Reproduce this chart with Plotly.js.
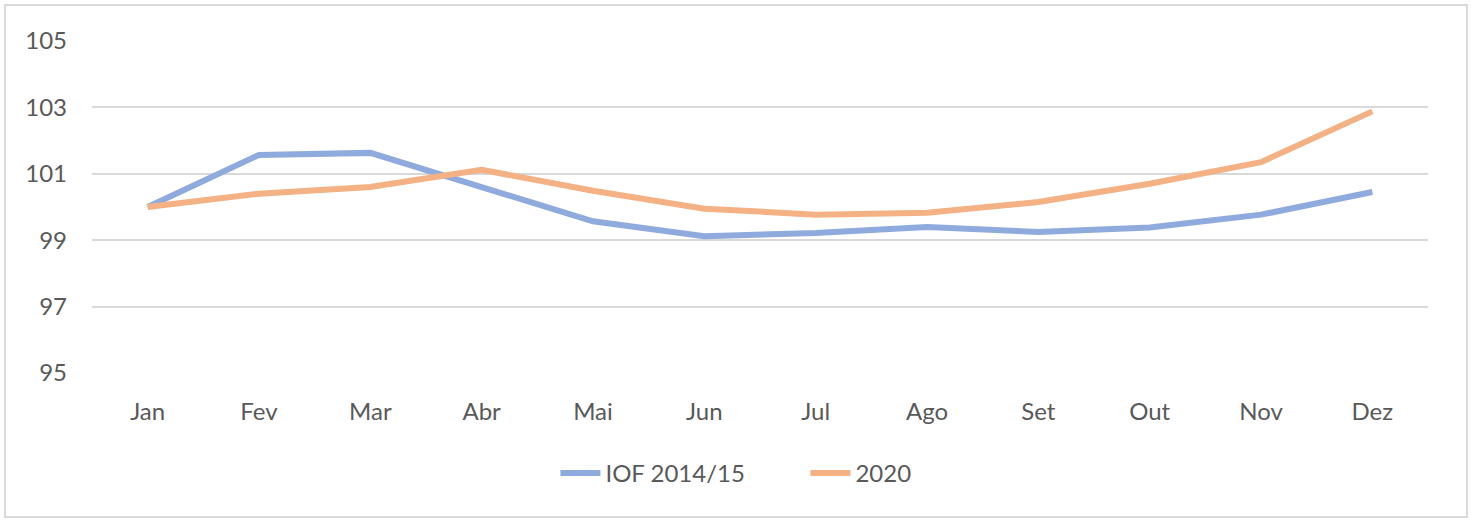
<!DOCTYPE html>
<html>
<head>
<meta charset="utf-8">
<script src="https://cdn.plot.ly/plotly-3.0.1.min.js"></script>
<style>
  html, body { margin: 0; padding: 0; background: #fff; }
  #wrap { position: relative; width: 1471px; height: 521px; }
  #chart { position: absolute; left: 0; top: 0; width: 1471px; height: 521px; }
  #frame { position: absolute; left: 4px; top: 4px; width: 1460px; height: 510px;
           border: 2px solid #d9d9d9; pointer-events: none; }
</style>
</head>
<body>
<div id="wrap">
  <div id="chart"></div>
  <div id="frame"></div>
</div>
<script>
const months = ["Jan", "Fev", "Mar", "Abr", "Mai", "Jun", "Jul", "Ago", "Set", "Out", "Nov", "Dez"];
const iof2014 = [100.0, 101.57, 101.63, 100.6, 99.57, 99.12, 99.22, 99.4, 99.25, 99.38, 99.77, 100.45];
const y2020 = [100.0, 100.4, 100.6, 101.12, 100.49, 99.95, 99.77, 99.83, 100.15, 100.7, 101.35, 102.88];
const yTicks = [95, 97, 99, 101, 103, 105];

const font = { family: "Lato, 'Open Sans', sans-serif", size: 24, color: "#595959" };

const traces = [
  { x: months, y: iof2014, name: "IOF 2014/15", type: "scatter", mode: "lines",
    line: { color: "#8FAADC", width: 6 } },
  { x: months, y: y2020, name: "2020", type: "scatter", mode: "lines",
    line: { color: "#F4B183", width: 6 } }
];

const layout = {
  width: 1471, height: 521,
  margin: { l: 92, r: 43, t: 41, b: 148 },
  paper_bgcolor: "#ffffff", plot_bgcolor: "#ffffff",
  font: font,
  showlegend: true,
  legend: { orientation: "h", x: 0.534, xanchor: "center", y: -0.235, yanchor: "top",
            font: font, itemwidth: 40, entrywidth: 195, entrywidthmode: "pixels" },
  xaxis: { type: "category", range: [-0.5, 11.5], showgrid: false, zeroline: false, showline: false,
           ticks: "", ticklabelstandoff: 22, tickfont: font, fixedrange: true },
  yaxis: { range: [95, 105], tickvals: yTicks, ticktext: yTicks.map(String),
           showgrid: true, gridcolor: "#d9d9d9", gridwidth: 2, zeroline: false,
           showline: false, ticks: "", ticklabelstandoff: 24, tickfont: font, fixedrange: true }
};

Plotly.newPlot("chart", traces, layout, { displayModeBar: false, staticPlot: true });
</script>
</body>
</html>
